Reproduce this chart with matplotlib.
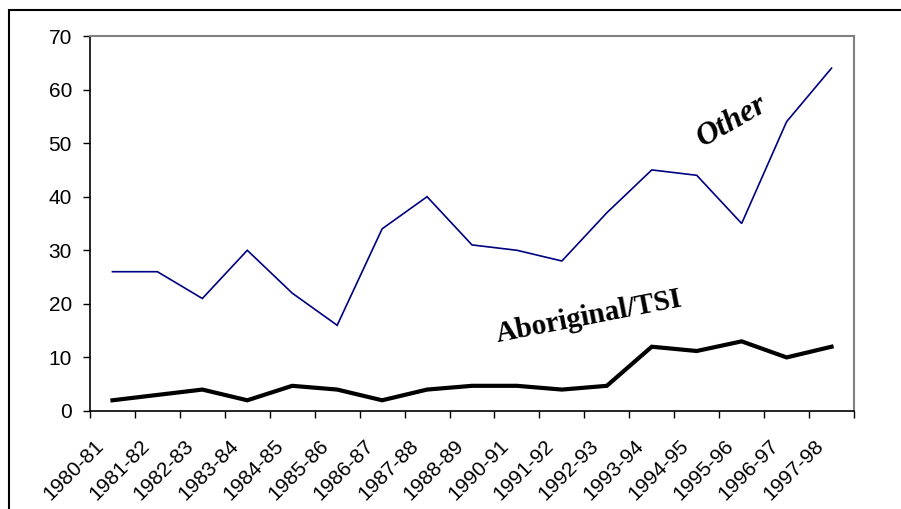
import numpy as np
import matplotlib
matplotlib.use("Agg")
import matplotlib.pyplot as plt
from matplotlib.patches import Rectangle
from matplotlib.transforms import ScaledTranslation

# data
years = ["1980-81", "1981-82", "1982-83", "1983-84", "1984-85", "1985-86",
         "1986-87", "1987-88", "1988-89", "1990-91", "1991-92", "1992-93",
         "1993-94", "1994-95", "1995-96", "1996-97", "1997-98"]
other = [26, 26, 21, 30, 22, 16, 34, 40, 31, 30, 28, 37, 45, 44, 35, 54, 64]
aboriginal = [2, 3, 4, 2, 4.7, 4, 2, 4, 4.7, 4.7, 4, 4.7, 12, 11.2, 13, 10, 12]

plt.rcParams['font.family'] = ['Liberation Sans', 'DejaVu Sans']

fig = plt.figure(figsize=(9.01, 5.09), dpi=100)
W, H = 901, 509
ax = fig.add_axes([90 / W, (H - 411) / H, 764 / W, 375 / H])

x = np.arange(len(years))
ax.plot(x, other, color='#000080', lw=1.2, solid_joinstyle='miter')
ax.plot(x, aboriginal, color='black', lw=3, solid_joinstyle='miter')

ax.set_xlim(-0.5, len(years) - 0.5)
ax.set_ylim(0, 70)
ax.set_yticks(np.arange(0, 71, 10))
ax.tick_params(axis='y', direction='out', length=5, width=1, labelsize=15, pad=8)

# major ticks at category boundaries, labels at centres
ax.set_xticks(np.arange(len(years) + 1) - 0.5)
ax.set_xticklabels([])
ax.tick_params(axis='x', which='major', direction='out', length=5, width=1)
ax.set_xticks(x, minor=True)
ax.set_xticklabels(years, minor=True, rotation=45, ha='right', va='top',
                   rotation_mode='anchor', fontsize=15)
ax.tick_params(axis='x', which='minor', length=0, pad=0)
offset = ScaledTranslation(-18 / 100, -25 / 100, fig.dpi_scale_trans)
for lab in ax.get_xticklabels(minor=True):
    lab.set_transform(lab.get_transform() + offset)

for side in ['left', 'bottom']:
    ax.spines[side].set_color('black')
    ax.spines[side].set_linewidth(1.2)
for side in ['top', 'right']:
    ax.spines[side].set_color('#808080')
    ax.spines[side].set_linewidth(1.5)

# word-art style series labels
ax.text(13.8, 54, "Other", fontsize=23, fontstyle='italic', fontweight='bold',
        family=['Liberation Serif'], rotation=30, ha='center', va='center',
        rotation_mode='anchor')
ax.text(10.6, 17.6, "Aboriginal/TSI", fontsize=21, fontweight='bold',
        family=['Liberation Serif'], rotation=11, ha='center', va='center',
        rotation_mode='anchor')

# outer chart border (right and bottom run off the image)
fig.patches.append(Rectangle((9 / W, -0.1), 2, (H - 10) / H + 0.1,
                             transform=fig.transFigure, fill=False,
                             ec='black', lw=1.5))

fig.savefig("out.png", dpi=100)
